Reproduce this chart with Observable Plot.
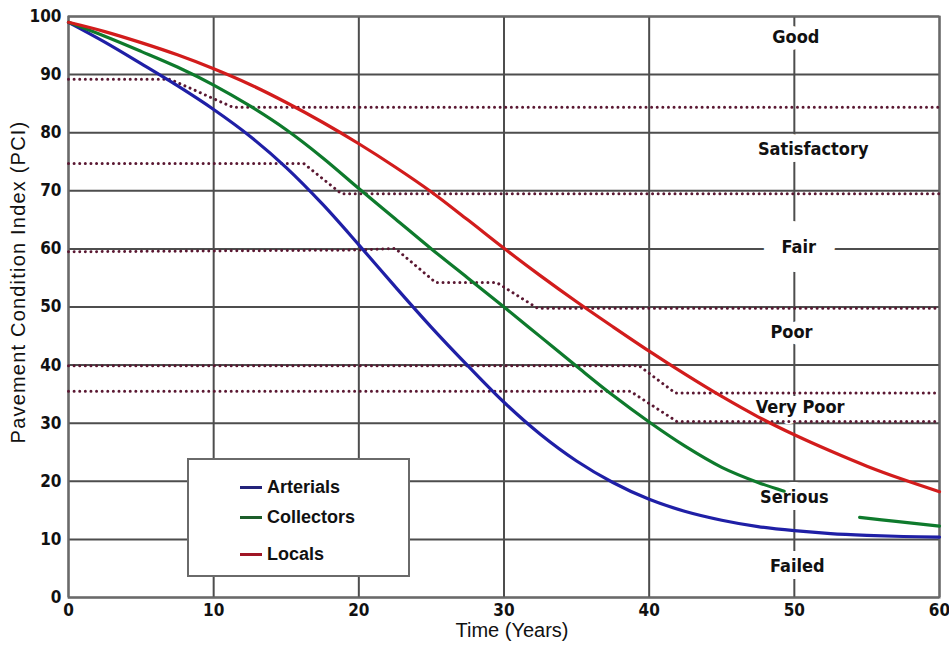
<!DOCTYPE html>
<html>
<head>
<meta charset="utf-8">
<script src="https://cdn.jsdelivr.net/npm/d3@7"></script>
<script src="https://cdn.jsdelivr.net/npm/@observablehq/plot@0.6"></script>
<style>
  html, body { margin: 0; padding: 0; background: #fff; }
  #wrap { position: relative; width: 949px; height: 647px; }
  #legend { position: absolute; left: 187px; top: 458px; width: 219px; height: 115px;
            border: 2px solid #6a6a6a; background: #fff; }
  .row { position: absolute; left: 51px; height: 22px; display: flex; align-items: center;
         font-family: "Liberation Sans", Arial, sans-serif; font-weight: bold; font-size: 18px; color: #111; }
  .sw { width: 22px; height: 3px; margin-right: 5px; }
</style>
</head>
<body>
<div id="wrap"><div id="legend"></div></div>
<script>
// ---- data ----
const years = [0, 2.5, 5, 7.5, 10, 12.5, 15, 17.5, 20, 22.5, 25, 27.5, 30, 32.5, 35, 37.5, 40, 42.5, 45, 47.5, 50, 52.5, 55, 57.5, 60];
const arterials = [99, 95.6, 91.9, 88.1, 84, 79.4, 74.0, 67.7, 60.7, 53.5, 46.5, 39.9, 33.6, 28.1, 23.5, 19.8, 16.9, 14.8, 13.3, 12.2, 11.5, 11, 10.7, 10.5, 10.4];
const locals = [99, 97.4, 95.5, 93.4, 91, 88.3, 85.2, 81.8, 78.1, 74.1, 69.8, 65.0, 60.1, 55.4, 50.9, 46.6, 42.4, 38.4, 34.6, 31.1, 28, 25.2, 22.6, 20.3, 18.2];
const collectorYears = [0, 2.5, 5, 7.5, 10, 12.5, 15, 17.5, 20, 22.5, 25, 27.5, 30, 32.5, 35, 37.5, 40, 42.5, 45, 47.5, 49.3, 52, 54.5, 57, 60];
const collectors = [99, 96.6, 94, 91.3, 88.2, 84.6, 80.5, 75.7, 70.4, 65.2, 60, 55, 50, 44.9, 39.8, 34.8, 30.2, 26, 22.4, 19.8, 18.3, null, 13.8, 13.1, 12.3];

// condition-boundary (dotted) lines: [year, PCI] vertices
const boundary1 = [[0, 89.2], [7, 89.2], [11.3, 84.4], [60, 84.4]];
const boundary2 = [[0, 74.7], [16.2, 74.7], [18.8, 69.5], [60, 69.5]];
const boundary3 = [[0, 59.5], [20, 59.8], [22.5, 60.1], [25.3, 54.2], [29.5, 54.2], [32.3, 49.8], [60, 49.8]];
const boundary4 = [[0, 39.9], [39.3, 39.9], [41.8, 35.2], [60, 35.2]];
const boundary5 = [[0, 35.5], [38.7, 35.5], [41.9, 30.3], [60, 30.3]];

const conditionLabels = ["Good", "Satisfactory", "Fair", "Poor", "Very Poor", "Serious", "Failed"];
const labelYear = [50.1, 51.3, 50.3, 49.8, 50.4, 50, 50.2];
const labelPCI = [96.4, 77.2, 60.3, 45.6, 32.8, 17.3, 5.4];

const xTicks = [0, 10, 20, 30, 40, 50, 60];
const yTicks = [0, 10, 20, 30, 40, 50, 60, 70, 80, 90, 100];

const seriesNames = ["Arterials", "Collectors", "Locals"];
const seriesColors = ["#1f1fa6", "#0e7a2c", "#d21c1c"];
const swatchColors = ["#23237a", "#1d5e2a", "#a01525"];

// ---- tables built from the arrays ----
const curveRows = [
  ...years.map((t, i) => ({t, v: arterials[i], s: "Arterials"})),
  ...collectorYears.map((t, i) => ({t, v: collectors[i], s: "Collectors"})),
  ...years.map((t, i) => ({t, v: locals[i], s: "Locals"}))
];
const boundaryRows = [boundary1, boundary2, boundary3, boundary4, boundary5]
  .flatMap((b, k) => b.map(([t, v]) => ({t, v, k})));
const labelRows = conditionLabels.map((label, i) => ({label, t: labelYear[i], v: labelPCI[i]}));

const labelFont = '"Liberation Sans Narrow", "DejaVu Sans Condensed", "Liberation Sans", sans-serif';

const chart = Plot.plot({
  width: 949,
  height: 647,
  marginLeft: 68,
  marginRight: 10,
  marginTop: 16,
  marginBottom: 50,
  style: {fontFamily: labelFont, fontSize: "17px", fontWeight: "bold", color: "#111", background: "#fff", overflow: "visible"},
  x: {domain: [0, 60]},
  y: {domain: [0, 100]},
  color: {domain: seriesNames, range: seriesColors},
  marks: [
    Plot.gridX(xTicks, {stroke: "#4d4d4d", strokeOpacity: 1, strokeWidth: 2}),
    Plot.gridY(yTicks, {stroke: "#4d4d4d", strokeOpacity: 1, strokeWidth: 2}),
    Plot.frame({stroke: "#6a6a6a", strokeWidth: 2}),
    Plot.axisX(xTicks, {tickSize: 0, tickPadding: 6, label: null, fill: "#111"}),
    Plot.axisY(yTicks, {tickSize: 0, tickPadding: 7, label: null, fill: "#111"}),
    // label backgrounds (white halo breaks the grid like the original)
    Plot.text(labelRows.filter(d => d.label === "Fair"), {x: "t", y: "v", text: "label",
      fontFamily: labelFont, fontSize: 18, fontWeight: "bold", fill: "#111",
      stroke: "white", strokeWidth: 38, strokeLinejoin: "round"}),
    Plot.text(labelRows, {x: "t", y: "v", text: "label",
      fontFamily: labelFont, fontSize: 18, fontWeight: "bold", fill: "#111",
      stroke: "white", strokeWidth: 14, strokeLinejoin: "round"}),
    Plot.line(boundaryRows, {x: "t", y: "v", z: "k", stroke: "#5a1832", strokeWidth: 3,
      strokeDasharray: "0.01,5.6", strokeLinecap: "round", curve: "linear"}),
    Plot.line(curveRows, {x: "t", y: "v", z: "s", stroke: "s", strokeWidth: 3.2, curve: "catmull-rom"}),
    Plot.text(["Time (Years)"], {frameAnchor: "bottom", dy: 39, dx: 8,
      fontFamily: '"Liberation Sans", Arial, sans-serif', fontWeight: "normal", fontSize: 20, fill: "#111"}),
    Plot.text(["Pavement Condition Index (PCI)"], {frameAnchor: "left", dx: -50, dy: -25, rotate: -90,
      textAnchor: "middle",
      fontFamily: '"Liberation Sans", Arial, sans-serif', fontWeight: "normal", fontSize: 20, fill: "#111"})
  ]
});
chart.querySelectorAll("text").forEach(t => {
  if (t.textContent === "Pavement Condition Index (PCI)") t.setAttribute("letter-spacing", "1.2");
});
document.getElementById("wrap").prepend(chart);

// legend (HTML overlay)
const legend = document.getElementById("legend");
const rowTops = [16, 46, 83];
seriesNames.forEach((name, i) => {
  const row = document.createElement("div");
  row.className = "row";
  row.style.top = rowTops[i] + "px";
  const sw = document.createElement("div");
  sw.className = "sw";
  sw.style.background = swatchColors[i];
  row.appendChild(sw);
  row.appendChild(document.createTextNode(name));
  legend.appendChild(row);
});
</script>
</body>
</html>
